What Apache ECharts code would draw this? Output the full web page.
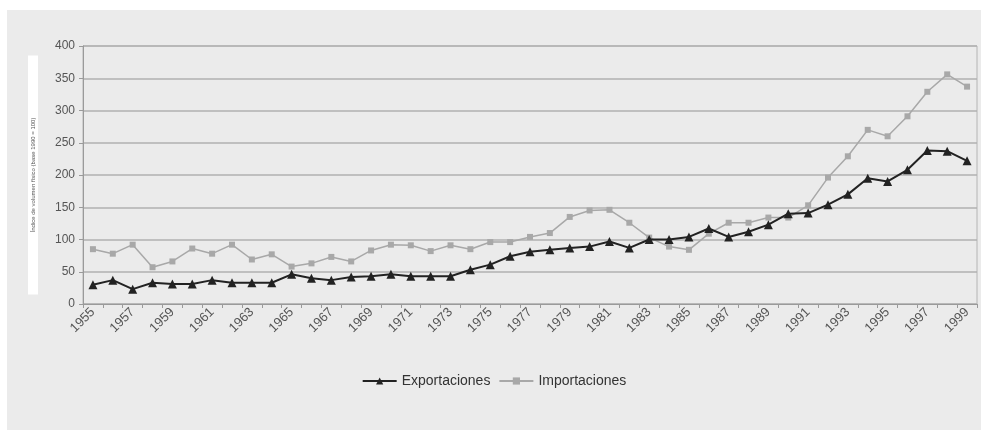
<!DOCTYPE html>
<html><head><meta charset="utf-8">
<script src="https://cdn.jsdelivr.net/npm/echarts@6/dist/echarts.min.js"></script>
<style>
html,body{margin:0;padding:0;background:#ffffff;}
#c{position:absolute;left:7px;top:10px;width:974px;height:420px;background:#ebebeb;}
</style></head><body>
<div id="c"></div>
<script>
const years = [];
for (let y = 1955; y <= 1999; y++) years.push(String(y));
const exportaciones = [30,37,23,33,31,31,37,33,33,33,46,40,37,42,43,46,43,43,43,53,61,74,81,84,87,89,97,87,100,100,104,117,104,112,123,140,141,154,170,195,190,208,238,237,222];
const importaciones = [85,78,92,57,66,86,78,92,69,77,58,63,73,66,83,92,91,82,91,85,96,96,104,110,135,145,146,126,103,89,84,109,126,126,134,134,153,196,229,270,260,291,329,356,337];
const yTicks = {min:0, max:400, interval:50};

const narrow = "'Liberation Sans Narrow', 'Arial Narrow', 'Liberation Sans', sans-serif";
const chart = echarts.init(document.getElementById('c'), null, {renderer:'canvas'});
chart.setOption({
  backgroundColor:'#ebebeb',
  animation:false,
  textStyle:{fontFamily:narrow},
  grid:{left:76, right:4, top:36, bottom:126, show:true, borderColor:'#b4b4b4', borderWidth:1, backgroundColor:'transparent'},
  legend:{
    bottom:37, left:'center', itemWidth:34, itemHeight:9, itemGap:8,
    textStyle:{color:'#333', fontSize:14, fontFamily:narrow},
    data:['Exportaciones','Importaciones']
  },
  xAxis:{
    type:'category', data:years, boundaryGap:true,
    axisLine:{lineStyle:{color:'#9a9a9a', width:1}},
    axisTick:{show:true, interval:0, length:4, lineStyle:{color:'#9a9a9a'}},
    axisLabel:{interval:1, rotate:45, color:'#555', fontSize:13, margin:6, fontFamily:narrow},
    splitLine:{show:false}
  },
  yAxis:{
    type:'value', min:yTicks.min, max:yTicks.max, interval:yTicks.interval,
    name:'Índice de volumen físico (base 1990 = 100)',
    nameLocation:'middle', nameRotate:90, nameGap:45,
    nameTextStyle:{fontSize:6, color:'#555', backgroundColor:'#ffffff', padding:[2,62,2,62]},
    axisLine:{show:true, lineStyle:{color:'#9a9a9a'}},
    axisTick:{show:true, length:4, lineStyle:{color:'#9a9a9a'}},
    axisLabel:{color:'#555', fontSize:12, margin:8, fontFamily:narrow},
    splitLine:{lineStyle:{color:'#b0b0b0', width:1.5}}
  },
  series:[
    {
      name:'Importaciones', type:'line', data:importaciones,
      symbol:'rect', symbolSize:6,
      lineStyle:{color:'#a8a8a8', width:1.5},
      itemStyle:{color:'#a8a8a8'}, z:2
    },
    {
      name:'Exportaciones', type:'line', data:exportaciones,
      symbol:'triangle', symbolSize:9,
      lineStyle:{color:'#222', width:2},
      itemStyle:{color:'#222'}, z:3
    }
  ]
});
</script></body></html>
